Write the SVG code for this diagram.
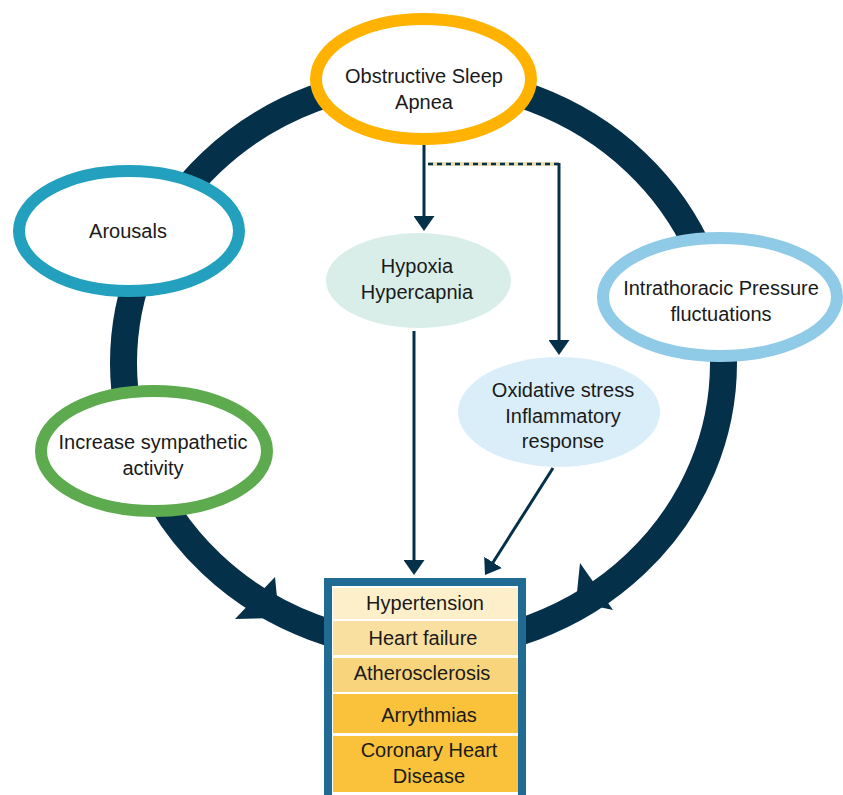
<svg xmlns="http://www.w3.org/2000/svg" width="843" height="795" viewBox="0 0 843 795">
  <defs>
    <style>
      text { font-family: "Liberation Sans", Arial, sans-serif; font-size: 20px; fill: #1a1a1a; text-anchor: middle; }
      .ring { fill: none; stroke: #053049; stroke-width: 27; }
      .head { fill: #053049; }
      .conn { fill: none; stroke: #053049; stroke-width: 3; }
      .node { fill: #ffffff; stroke-width: 12; }
      .row { stroke: none; }
    </style>
    <marker id="arr" markerUnits="userSpaceOnUse" viewBox="0 0 15 21" markerWidth="15" markerHeight="21" refX="12" refY="10.5" orient="auto">
      <path d="M0,0 L15,10.5 L0,21 z" fill="#053049"/>
    </marker>
  </defs>

  <g id="connectors">
    <ellipse class="ring" cx="423.5" cy="363" rx="300" ry="284"/>
    <polygon class="head" points="275,577 235,619 279,618"/>
    <polygon class="head" points="580,563 613,610 576,602"/>
    <path class="conn" d="M424,145 L424,228" marker-end="url(#arr)"/>
    <path d="M428,164 L559,164" fill="none" stroke="#E9DDB3" stroke-width="4"/>
    <path d="M428,164 L559,164" fill="none" stroke="#053049" stroke-width="2.5" stroke-dasharray="5,4"/>
    <path class="conn" d="M559,163 L559,352" marker-end="url(#arr)"/>
    <path class="conn" d="M414,331 L414,572" marker-end="url(#arr)"/>
    <path class="conn" d="M553,468 L486.6,572.5" marker-end="url(#arr)"/>
  </g>

  <g id="osa">
    <ellipse class="node" cx="423.5" cy="79" rx="107.5" ry="60" stroke="#FFB300"/>
    <text x="424" y="83">Obstructive Sleep</text>
    <text x="424" y="109">Apnea</text>
  </g>

  <g id="arousals">
    <ellipse class="node" cx="129" cy="231" rx="110" ry="60" stroke="#22A0BE"/>
    <text x="128" y="238">Arousals</text>
  </g>

  <g id="sympathetic">
    <ellipse class="node" cx="154" cy="451" rx="113" ry="60" stroke="#5DAB4E"/>
    <text x="153" y="449">Increase sympathetic</text>
    <text x="153" y="475">activity</text>
  </g>

  <g id="intrathoracic">
    <ellipse class="node" cx="720" cy="297" rx="117" ry="59" stroke="#8FCAE6"/>
    <text x="721" y="295">Intrathoracic Pressure</text>
    <text x="721" y="321">fluctuations</text>
  </g>

  <g id="hypoxia">
    <ellipse cx="418.5" cy="280.5" rx="92.5" ry="47.5" fill="#D9EEE9"/>
    <text x="417" y="273">Hypoxia</text>
    <text x="417" y="299">Hypercapnia</text>
  </g>

  <g id="oxidative">
    <ellipse cx="559" cy="412" rx="101" ry="55" fill="#DAEEF9"/>
    <text x="563" y="397">Oxidative stress</text>
    <text x="563" y="423">Inflammatory</text>
    <text x="563" y="448">response</text>
  </g>

  <g id="outcomes">
    <rect x="328" y="582" width="194" height="230" fill="#ffffff" stroke="#1F6B93" stroke-width="8"/>
    <rect class="row" x="333" y="588" width="185" height="31" fill="#FDEFC9"/>
    <rect class="row" x="333" y="621" width="185" height="34" fill="#FAE0A0"/>
    <rect class="row" x="333" y="658" width="185" height="34" fill="#F8D47C"/>
    <rect class="row" x="333" y="694" width="185" height="39" fill="#F9C23A"/>
    <rect class="row" x="333" y="736" width="185" height="56" fill="#F9C23A"/>
    <text x="425" y="610">Hypertension</text>
    <text x="423" y="645">Heart failure</text>
    <text x="422" y="680">Atherosclerosis</text>
    <text x="429" y="722">Arrythmias</text>
    <text x="429" y="757">Coronary Heart</text>
    <text x="429" y="783">Disease</text>
  </g>
</svg>
